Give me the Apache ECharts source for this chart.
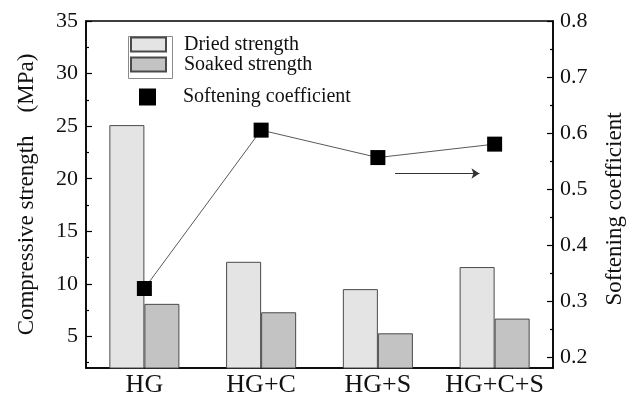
<!DOCTYPE html>
<html>
<head>
<meta charset="utf-8">
<script src="https://cdn.jsdelivr.net/npm/echarts@6/dist/echarts.min.js"></script>
<style>html,body{margin:0;padding:0;background:#fff}#c{width:638px;height:401px}</style>
</head>
<body>
<div id="c"></div>
<script>
const categories = ['HG', 'HG+C', 'HG+S', 'HG+C+S'];
const driedStrength = [25.1, 12.1, 9.5, 11.6];
const soakedStrength = [8.1, 7.3, 5.3, 6.7];
const softeningCoefficient = [0.322, 0.605, 0.556, 0.580];
const leftTicks = [5, 10, 15, 20, 25, 30, 35];
const leftMinorTicks = [2.5, 7.5, 12.5, 17.5, 22.5, 27.5, 32.5];
const rightTicks = [0.2, 0.3, 0.4, 0.5, 0.6, 0.7, 0.8];
const rightMinorTicks = [0.25, 0.35, 0.45, 0.55, 0.65, 0.75];
const arrowFrom = [2.147, 0.5275];
const arrowTo = [2.87, 0.5275];

const FONT = 'Liberation Serif';
const gridBox = { left: 86, right: 85, top: 21, bottom: 33 };
const chart = echarts.init(document.getElementById('c'), null, { renderer: 'canvas' });

chart.setOption({
  animation: false,
  backgroundColor: '#fff',
  grid: [
    Object.assign({ show: true, borderColor: '#000', borderWidth: 1.5, backgroundColor: 'transparent' }, gridBox),
    Object.assign({ show: false }, gridBox)
  ],
  legend: [
    {
      data: ['Dried strength', 'Soaked strength'],
      orient: 'vertical', left: 125, top: 29.5, padding: 5,
      itemWidth: 35, itemHeight: 14, itemGap: 0,
      icon: 'rect',
      textStyle: { fontFamily: FONT, fontSize: 20, color: '#111', padding: [0, 0, 0, 13] }
    },
    {
      data: [{ name: 'Softening coefficient', icon: 'rect' }],
      orient: 'vertical', left: 134, top: 82, padding: 5,
      itemWidth: 17, itemHeight: 17,
      textStyle: { fontFamily: FONT, fontSize: 20, color: '#111', padding: [0, 0, 0, 22] }
    }
  ],
  graphic: [{
    type: 'rect', left: 126, top: 34, silent: true,
    shape: { width: 44, height: 42 },
    style: { fill: 'none', stroke: '#8a8a8a', lineWidth: 1 }
  }],
  xAxis: [
    {
      type: 'category', gridIndex: 0, data: categories,
      axisLine: { lineStyle: { color: '#000', width: 1.5 } },
      axisTick: { show: false },
      axisLabel: { fontFamily: FONT, fontSize: 26, color: '#111', margin: 4, interval: 0 }
    },
    { type: 'value', gridIndex: 1, min: -0.5, max: 3.5, show: false, axisLine: { onZero: false } }
  ],
  yAxis: [
    {
      type: 'value', gridIndex: 0, position: 'left', min: 2, max: 35,
      name: 'Compressive strength\u2002\u2002(MPa)', nameLocation: 'middle', nameGap: 48, nameRotate: 90,
      nameTextStyle: { fontFamily: FONT, fontSize: 23, color: '#111' },
      splitLine: { show: false },
      axisLine: { show: true, onZero: false, lineStyle: { color: '#000', width: 1.5 } },
      axisTick: { show: true, inside: true, length: 6, lineStyle: { color: '#000', width: 1.2 }, customValues: leftTicks },
      axisLabel: { fontFamily: FONT, fontSize: 22, color: '#111', margin: 8, customValues: leftTicks }
    },
    {
      type: 'value', gridIndex: 0, position: 'right', min: 0.18, max: 0.8,
      name: 'Softening coefficient', nameLocation: 'middle', nameGap: 50, nameRotate: 90,
      nameTextStyle: { fontFamily: FONT, fontSize: 23, color: '#111', padding: [0, 29, 0, 0] },
      splitLine: { show: false },
      axisLine: { show: true, onZero: false, lineStyle: { color: '#000', width: 1.5 } },
      axisTick: { show: true, inside: true, length: 6, lineStyle: { color: '#000', width: 1.2 }, customValues: rightTicks },
      axisLabel: { fontFamily: FONT, fontSize: 22, color: '#111', margin: 7, customValues: rightTicks,
        formatter: v => v.toFixed(1) }
    },
    {
      type: 'value', gridIndex: 1, position: 'left', min: 2, max: 35,
      splitLine: { show: false }, axisLine: { show: false, onZero: false }, axisLabel: { show: false },
      axisTick: { show: true, inside: true, length: 3, lineStyle: { color: '#000', width: 1.2 }, customValues: leftMinorTicks }
    },
    {
      type: 'value', gridIndex: 1, position: 'right', min: 0.18, max: 0.8,
      splitLine: { show: false }, axisLine: { show: false, onZero: false }, axisLabel: { show: false },
      axisTick: { show: true, inside: true, length: 3, lineStyle: { color: '#000', width: 1.2 }, customValues: rightMinorTicks }
    }
  ],
  series: [
    {
      name: 'Dried strength', type: 'bar', xAxisIndex: 0, yAxisIndex: 0,
      data: driedStrength, barGap: '0%', barCategoryGap: '40%',
      itemStyle: { color: '#e4e4e4', borderColor: '#4a4a4a', borderWidth: 1 }
    },
    {
      name: 'Soaked strength', type: 'bar', xAxisIndex: 0, yAxisIndex: 0,
      data: soakedStrength, barGap: '0%', barCategoryGap: '40%',
      itemStyle: { color: '#c3c3c3', borderColor: '#4a4a4a', borderWidth: 1 }
    },
    {
      name: 'Softening coefficient', type: 'line', xAxisIndex: 0, yAxisIndex: 1,
      data: softeningCoefficient, symbol: 'rect', symbolSize: 15, z: 5,
      itemStyle: { color: '#000' },
      lineStyle: { color: '#5a5a5a', width: 1 }
    },
    {
      name: 'arrow', type: 'line', xAxisIndex: 1, yAxisIndex: 3, data: [], silent: true,
      markLine: {
        silent: true, symbol: ['none', 'arrow'], symbolSize: 8,
        label: { show: false },
        lineStyle: { color: '#333', width: 1, type: 'solid' },
        data: [[{ coord: arrowFrom }, { coord: arrowTo }]]
      }
    }
  ]
});
</script>
</body>
</html>
